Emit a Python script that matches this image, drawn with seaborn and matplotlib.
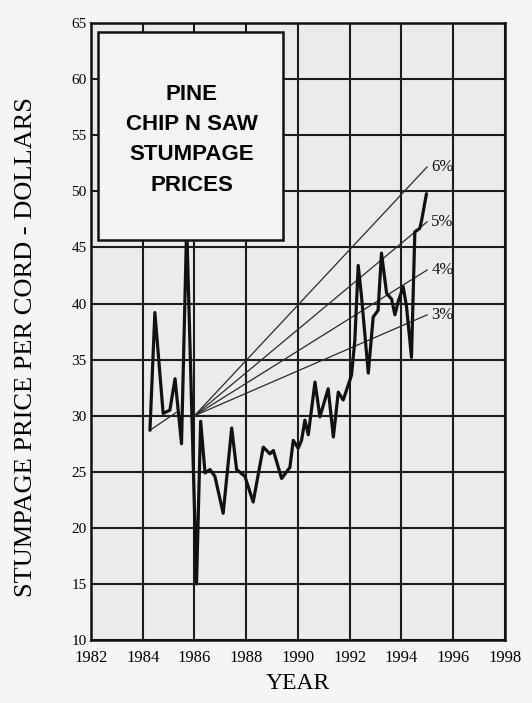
import seaborn as sns
import pandas as pd
import matplotlib.pyplot as plt
from matplotlib.patches import Rectangle

# Harga stumpage pine chip-n-saw
year = [1984.28, 1984.47, 1984.79, 1985.05, 1985.25, 1985.50, 1985.70, 1986.08,
        1986.24, 1986.41, 1986.60, 1986.79, 1987.11, 1987.44, 1987.63, 1987.95,
        1988.27, 1988.66, 1988.92, 1989.05, 1989.37, 1989.69, 1989.82, 1990.01,
        1990.14, 1990.27, 1990.40, 1990.66, 1990.85, 1991.17, 1991.37, 1991.56,
        1991.75, 1992.07, 1992.20, 1992.33, 1992.46, 1992.72, 1992.91, 1993.10,
        1993.23, 1993.43, 1993.62, 1993.75, 1993.88, 1994.07, 1994.20, 1994.39,
        1994.52, 1994.71, 1994.78, 1994.97]
price = [28.7, 39.2, 30.2, 30.5, 33.3, 27.5, 47.0, 15.0,
         29.5, 24.9, 25.2, 24.6, 21.3, 28.9, 25.2, 24.6,
         22.3, 27.2, 26.6, 26.9, 24.4, 25.4, 27.8, 27.1,
         27.8, 29.6, 28.3, 33.0, 29.9, 32.4, 28.1, 32.1,
         31.4, 33.6, 36.7, 43.4, 40.6, 33.8, 38.8, 39.4,
         44.5, 40.9, 40.4, 39.0, 40.2, 41.5, 39.7, 35.2,
         46.4, 46.7, 47.4, 49.8]

# Garis tren pertumbuhan
rate_labels = ["6%", "5%", "4%", "3%"]
trend_start = (1986.0, 30.0)
trend_end_year = 1995.0
trend_end = [52.2, 47.3, 43.0, 39.0]
start_seg_x = [1984.28, 1985.3]
start_seg_y = [28.7, 30.3]

title_lines = "PINE\nCHIP N SAW\nSTUMPAGE\nPRICES"

sns.set_theme(style="whitegrid", rc={
    "axes.facecolor": "#ebebeb",
    "figure.facecolor": "#f5f5f5",
    "axes.edgecolor": "#111111",
    "grid.color": "#1c1c1c",
    "grid.linewidth": 1.5,
    "axes.linewidth": 1.8,
    "text.color": "black",
    "axes.labelcolor": "black",
    "xtick.color": "black",
    "ytick.color": "black",
})
plt.rcParams["font.family"] = ["Liberation Serif", "DejaVu Serif"]

df = pd.DataFrame({"Year": year, "Price": price})

fig = plt.figure(figsize=(5.32, 7.03), dpi=100)
ax = fig.add_axes([0.171, 0.0896, 0.778, 0.8774])

# garis tren
for lab, yend in zip(rate_labels, trend_end):
    ax.plot([trend_start[0], trend_end_year], [trend_start[1], yend],
            color="#2a2a2a", lw=0.9, zorder=3)
    ax.text(trend_end_year + 0.15, yend, lab, fontsize=12,
            va="center", ha="left", color="#111111")
ax.plot(start_seg_x, start_seg_y, color="#2a2a2a", lw=0.9, zorder=3)

sns.lineplot(data=df, x="Year", y="Price", color="#111111", lw=2.3,
             ax=ax, zorder=4)

# kotak judul
box = Rectangle((1982.27, 45.65), 7.15, 18.55, facecolor="#f3f3f3",
                edgecolor="#111111", lw=1.8, zorder=5)
ax.add_patch(box)
ax.text(1985.9, 54.6, title_lines, ha="center", va="center",
        fontsize=16, fontweight="bold", linespacing=1.58, zorder=6,
        color="black", family=["Liberation Sans", "DejaVu Sans"])

ax.set_xlim(1982, 1998)
ax.set_ylim(10, 65)
ax.set_xticks(range(1982, 1999, 2))
ax.set_yticks(range(10, 66, 5))
ax.tick_params(axis="x", labelsize=12, pad=7, length=0)
ax.tick_params(axis="y", labelsize=11, pad=3, length=0)
ax.set_xlabel("YEAR", fontsize=17, labelpad=5)
ax.set_ylabel("STUMPAGE PRICE PER CORD - DOLLARS", fontsize=19)
ax.yaxis.set_label_coords(-0.13, 0.475)
for s in ax.spines.values():
    s.set_visible(True)

plt.savefig("out.png", dpi=100)
